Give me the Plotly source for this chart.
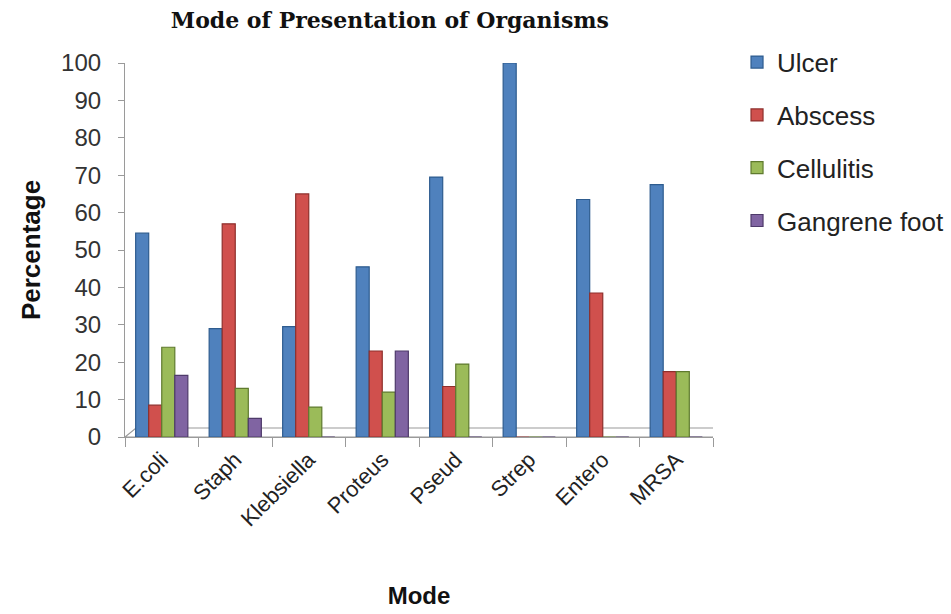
import plotly.graph_objects as go

# Organisms on the category axis
organisms = ["E.coli", "Staph", "Klebsiella", "Proteus", "Pseud", "Strep", "Entero", "MRSA"]

# Percentage of each mode of presentation per organism
ulcer = [54.5, 29, 29.5, 45.5, 69.5, 100, 63.5, 67.5]
abscess = [8.5, 57, 65, 23, 13.5, 0, 38.5, 17.5]
cellulitis = [24, 13, 8, 12, 19.5, 0, 0, 17.5]
gangrene = [16.5, 5, 0, 23, 0, 0, 0, 0]

y_ticks = list(range(0, 101, 10))

series = [
    ("Ulcer", ulcer, "#4F81BD", "#2E5C8F"),
    ("Abscess", abscess, "#D0504D", "#8E2F2C"),
    ("Cellulitis", cellulitis, "#9BBB59", "#5F7A2E"),
    ("Gangrene foot", gangrene, "#8064A2", "#4E3A6A"),
]

fig = go.Figure()
for i, (name, vals, fill, edge) in enumerate(series):
    fig.add_trace(go.Bar(
        x=organisms, y=vals, name=name,
        marker=dict(color=fill, line=dict(color=edge, width=1.2)),
        legendgroup=f"g{i}",
    ))

# Floor of the plot area, drawn as a shallow slanted plane
fig.add_shape(
    type="path", xref="x", yref="y",
    path="M -0.5 0 L 7.5 0 L 7.65 2.4 L -0.35 2.4 Z",
    line=dict(color="#9A9A9A", width=1.2), fillcolor="rgba(0,0,0,0)", layer="below",
)

fig.update_layout(
    width=951, height=614,
    margin=dict(l=125, r=238, t=63, b=177, autoexpand=False),
    plot_bgcolor="white", paper_bgcolor="white",
    barmode="group", bargap=0.29, bargroupgap=0.0,
    title=dict(
        text="<b>Mode of Presentation of Organisms</b>",
        x=0.41, xref="container", xanchor="center",
        y=0.967, yref="container", yanchor="middle",
        font=dict(family="DejaVu Serif", size=22, color="#111"),
    ),
    font=dict(family="Liberation Sans, Arial", color="#222"),
    legend=dict(
        xref="container", yref="container",
        x=0.775, xanchor="left", y=0.937, yanchor="top",
        font=dict(size=26, color="#222"),
        tracegroupgap=16, itemwidth=30,
        bgcolor="rgba(0,0,0,0)",
    ),
    xaxis=dict(
        title=dict(text="<b>Mode</b>", font=dict(size=24, color="#111"), standoff=56),
        tickangle=-45, tickfont=dict(size=22, color="#222"),
        showline=True, linecolor="#9A9A9A", linewidth=1.2,
        ticks="outside", tickson="boundaries", ticklen=9, tickcolor="#9A9A9A",
        showgrid=False, range=[-0.5, 7.5],
    ),
    yaxis=dict(
        title=dict(text="<b>Percentage</b>", font=dict(size=26, color="#111"), standoff=12),
        range=[0, 100], tickvals=y_ticks,
        tickfont=dict(size=24, color="#333"),
        showline=True, linecolor="#9A9A9A", linewidth=1.2,
        ticks="outside", ticklen=6, tickcolor="#9A9A9A",
        ticklabelstandoff=12,
        showgrid=False, zeroline=False,
    ),
)

fig.write_html("out.html")
